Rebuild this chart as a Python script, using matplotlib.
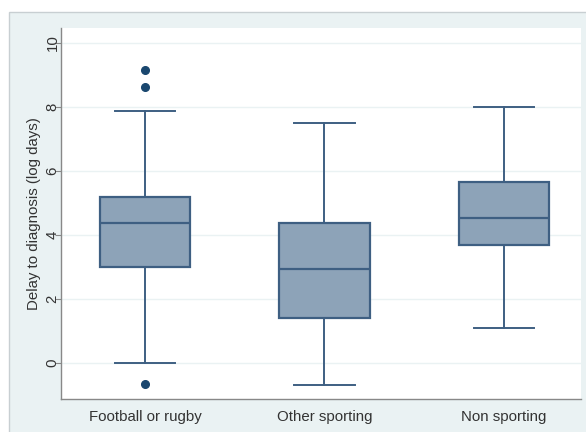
import matplotlib
matplotlib.use("Agg")
import matplotlib.pyplot as plt
from matplotlib.patches import Rectangle

categories = ["Football or rugby", "Other sporting", "Non sporting"]
medians = [4.37, 2.94, 4.53]
q1 = [3.00, 1.40, 3.69]
q3 = [5.19, 4.37, 5.66]
whisker_low = [0.00, -0.69, 1.09]
whisker_high = [7.87, 7.50, 8.00]
outliers = [[9.16, 8.62, -0.66], [], []]
yticks = [0, 2, 4, 6, 8, 10]

plt.rcParams['font.family'] = ['Liberation Sans', 'DejaVu Sans']

fig = plt.figure(figsize=(5.86, 4.32), dpi=100)
fig.patch.set_facecolor("white")
bg = Rectangle((9/586, -0.01), 1, 1 - 12/432 + 0.01, transform=fig.transFigure,
               facecolor="#EAF2F3", edgecolor="#C8CFD2", lw=1.0, zorder=-10)
fig.add_artist(bg)

ax = fig.add_axes([61/586, 1 - 399/432, (581 - 61)/586, (399 - 28)/432])
ax.set_zorder(1)
ax.set_facecolor("white")

stats = []
for i, c in enumerate(categories):
    stats.append(dict(label=c, med=medians[i], q1=q1[i], q3=q3[i],
                      whislo=whisker_low[i], whishi=whisker_high[i], fliers=outliers[i]))

edge = "#3E5F82"
ax.bxp(stats, positions=[1, 2, 3], widths=0.503, capwidths=0.335, patch_artist=True,
       boxprops=dict(facecolor="#8DA3B8", edgecolor=edge, linewidth=1.6),
       medianprops=dict(color=edge, linewidth=1.6),
       whiskerprops=dict(color=edge, linewidth=1.4),
       capprops=dict(color=edge, linewidth=1.4),
       flierprops=dict(marker="o", markerfacecolor="#1A476F", markeredgecolor="#1A476F",
                       markersize=5.5, linestyle="none"))

ax.set_xlim(0.531, 3.43)
ax.set_ylim(-1.125, 10.47)
ax.set_yticks(yticks)
ax.set_yticklabels([str(t) for t in yticks], rotation=90, va="center", fontsize=10.8, color="#333333")
ax.tick_params(axis="y", length=4, color="#888888", pad=-3)
ax.tick_params(axis="x", length=0, labelsize=10.8, pad=8, labelcolor="#333333")
ax.grid(axis="y", color="#EAF2F3", linewidth=1.0)
ax.set_axisbelow(True)
for s in ["top", "right"]:
    ax.spines[s].set_visible(False)
for s in ["left", "bottom"]:
    ax.spines[s].set_color("#888888")
    ax.spines[s].set_linewidth(1.0)
ax.set_ylabel("Delay to diagnosis (log days)", fontsize=10.8, color="#333333")
ax.yaxis.set_label_coords(-(61 - 41) / 520, 0.5 + ((399 - 28) / 2 + 28 - 214) / 371)

fig.savefig("out.png", dpi=100, facecolor=fig.get_facecolor())
